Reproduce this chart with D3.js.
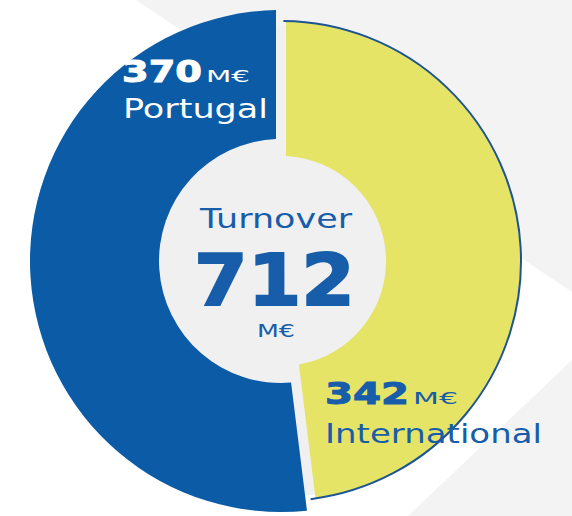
<!DOCTYPE html>
<html>
<head>
<meta charset="utf-8">
<script src="https://d3js.org/d3.v7.min.js"></script>
<style>
  body { margin: 0; background: #f3f3f4; }
  svg { display: block; }
</style>
</head>
<body>
<div id="chart"></div>
<script>

// data
var categories = ["Portugal", "International"];
var values = [370, 342];
var unit = "M€";
var totalLabel = "Turnover";

// size and centre of the donut
var width = 572,
    height = 516,
    cx = 281,
    cy = 261;

var blue = "#0b5ba6",
    yellow = "#e5e467",
    textBlue = "#175da9";

var svg = d3.select("#chart")
  .append("svg")
    .attr("width", width)
    .attr("height", height)
    .style("font-family", "'DejaVu Sans', sans-serif");

// background: light grey with a big white wedge
svg.append("rect")
  .attr("width", width)
  .attr("height", height)
  .attr("fill", "#f3f3f4");
svg.append("path")
  .attr("d", "M0,0L136,0L614,320L408,516L0,516Z")
  .attr("fill", "#ffffff");

var g = svg.append("g")
  .attr("transform", "translate(" + cx + "," + cy + ")");

var total = d3.sum(values);
var offset = 2 * Math.PI * values[0] / total;

var pie = d3.pie()
  .sort(null)
  .startAngle(-offset)
  .endAngle(2 * Math.PI - offset);
var slices = pie(values);

// grey behind the hole and the gaps
g.append("circle")
  .attr("r", 236)
  .attr("fill", "#f0f0f1");

// each slice gets its own thickness
var inner = [122, 105],
    outer = [251, 240],
    colors = [blue, yellow];

g.selectAll("path.slice")
  .data(slices)
  .enter()
  .append("path")
    .attr("class", "slice")
    .attr("d", function(d, i) {
      return d3.arc()
        .innerRadius(inner[i])
        .outerRadius(outer[i])
        .padAngle(0.05)
        .padRadius(200)(d);
    })
    .attr("fill", function(d, i) { return colors[i]; });

// thin blue rim on the yellow slice
var rim = d3.path();
rim.arc(0, 0, outer[1], slices[1].startAngle + 0.01 - Math.PI / 2, slices[1].endAngle - Math.PI / 2);
g.append("path")
  .attr("d", rim.toString())
  .attr("fill", "none")
  .attr("stroke", "#1d5593")
  .attr("stroke-width", 2);

// helper for stretched labels
function label(txt, x, y, size, w, color, bold) {
  var t = svg.append("text")
    .attr("x", x)
    .attr("y", y)
    .attr("font-size", size)
    .attr("font-weight", bold ? 700 : 400)
    .attr("fill", color)
    .attr("textLength", w)
    .attr("lengthAdjust", "spacingAndGlyphs")
    .text(txt);
  if (bold) t.attr("stroke", color).attr("stroke-width", bold);
  return t;
}

// Portugal
label(values[0], 122, 82, 30, 80, "#ffffff", 1);
label(unit, 206, 82, 15, 44, "#ffffff", 0);
label(categories[0], 123, 118, 26, 145, "#ffffff", 0);

// centre
label(totalLabel, 200, 228, 27, 152, textBlue, 0);
label(total, 194, 305, 72, 161, textBlue, 2);
label(unit, 257, 337, 18, 38, textBlue, 0);

// International
label(values[1], 325, 404, 30, 84, textBlue, 1);
label(unit, 413, 404, 15, 45, textBlue, 0);
label(categories[1], 325, 443, 27, 217, textBlue, 0);

</script>
</body>
</html>
